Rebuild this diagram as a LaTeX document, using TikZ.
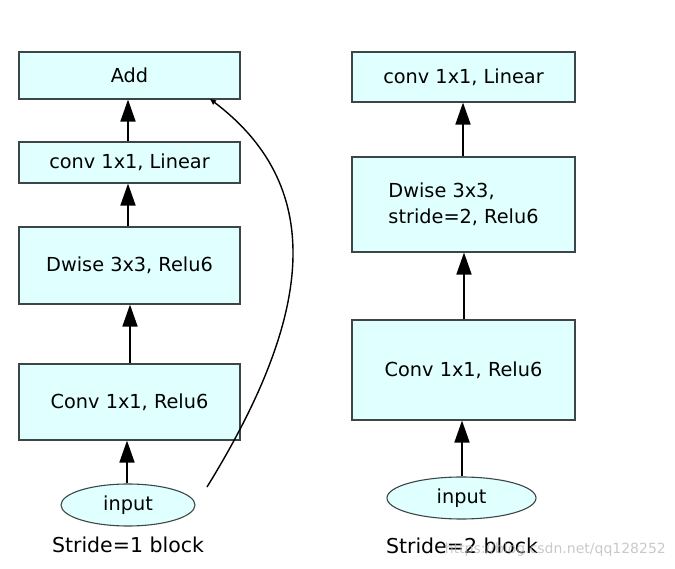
\documentclass[tikz,border=0pt]{standalone}
\usepackage{fontspec}
\setmainfont{DejaVu Sans}
\usetikzlibrary{arrows.meta,shapes.geometric}
\definecolor{boxfill}{RGB}{224,255,255}
\definecolor{boxline}{RGB}{60,70,70}
\tikzset{
  blk/.style={draw=boxline, line width=1.1pt, fill=boxfill, inner sep=0pt, align=left,
    font=\fontsize{19.3}{26}\selectfont},
  inp/.style={ellipse, draw=boxline, line width=1.1pt, fill=boxfill, inner sep=0pt,
    font=\fontsize{19.3}{23}\selectfont},
  captext/.style={font=\fontsize{20.5}{24}\selectfont},
  flow/.style={line width=1.7pt, -{Triangle[width=15pt,length=22pt]}},
  skip/.style={line width=1.4pt, -{Triangle[width=5pt,length=6pt]}}
}
\begin{document}
\begin{tikzpicture}[x=1pt,y=-1pt]
\useasboundingbox (0,0) rectangle (675,569);
% left column
\node[blk, minimum width=221pt, minimum height=47pt] (add) at (129.5,75.5) {Add};
\node[blk, minimum width=221pt, minimum height=41pt] (lin1) at (129.5,162.5) {conv 1x1, Linear};
\node[blk, minimum width=221pt, minimum height=77pt] (dw1) at (129.5,265.5) {Dwise 3x3, Relu6};
\node[blk, minimum width=221pt, minimum height=76pt] (cv1) at (129.5,402) {Conv 1x1, Relu6};
\node[inp, minimum width=134pt, minimum height=42pt] (in1) at (128,505) {input};
\node[captext] (c1) at (128,545) {Stride=1 block};
% right column
\node[blk, minimum width=223pt, minimum height=50pt] (lin2) at (463.5,77) {conv 1x1, Linear};
\node[blk, minimum width=223pt, minimum height=95pt] (dw2) at (463.5,204.5) {Dwise 3x3,\\stride=2, Relu6};
\node[blk, minimum width=223pt, minimum height=100pt] (cv2) at (463.5,370) {Conv 1x1, Relu6};
\node[inp, minimum width=149pt, minimum height=42pt] (in2) at (461.5,498) {input};
\node[captext] (c2) at (462,546) {Stride=2 block};
\node[font=\fontsize{14}{17}\selectfont, text=gray!60, opacity=0.7, anchor=east, inner sep=0pt] (wm) at (666,550) {https://blog.csdn.net/qq128252};
% connectors
\draw[flow] (lin1.north -| 128,0) -- (add.south -| 128,0);
\draw[flow] (dw1.north -| 128,0) -- (lin1.south -| 128,0);
\draw[flow] (cv1.north -| 130,0) -- (dw1.south -| 130,0);
\draw[flow] (in1.north -| 127,0) -- (cv1.south -| 127,0);
\draw[flow] (dw2.north -| 463,0) -- (lin2.south -| 463,0);
\draw[flow] (cv2.north -| 464,0) -- (dw2.south -| 464,0);
\draw[flow] (in2.north -| 462,0) -- (cv2.south -| 462,0);
\coordinate (cs) at (207,487);
\coordinate (ce) at (210,99);
\draw[skip] (cs) .. controls (310,320) and (330,190) .. (ce);
\end{tikzpicture}
\end{document}
